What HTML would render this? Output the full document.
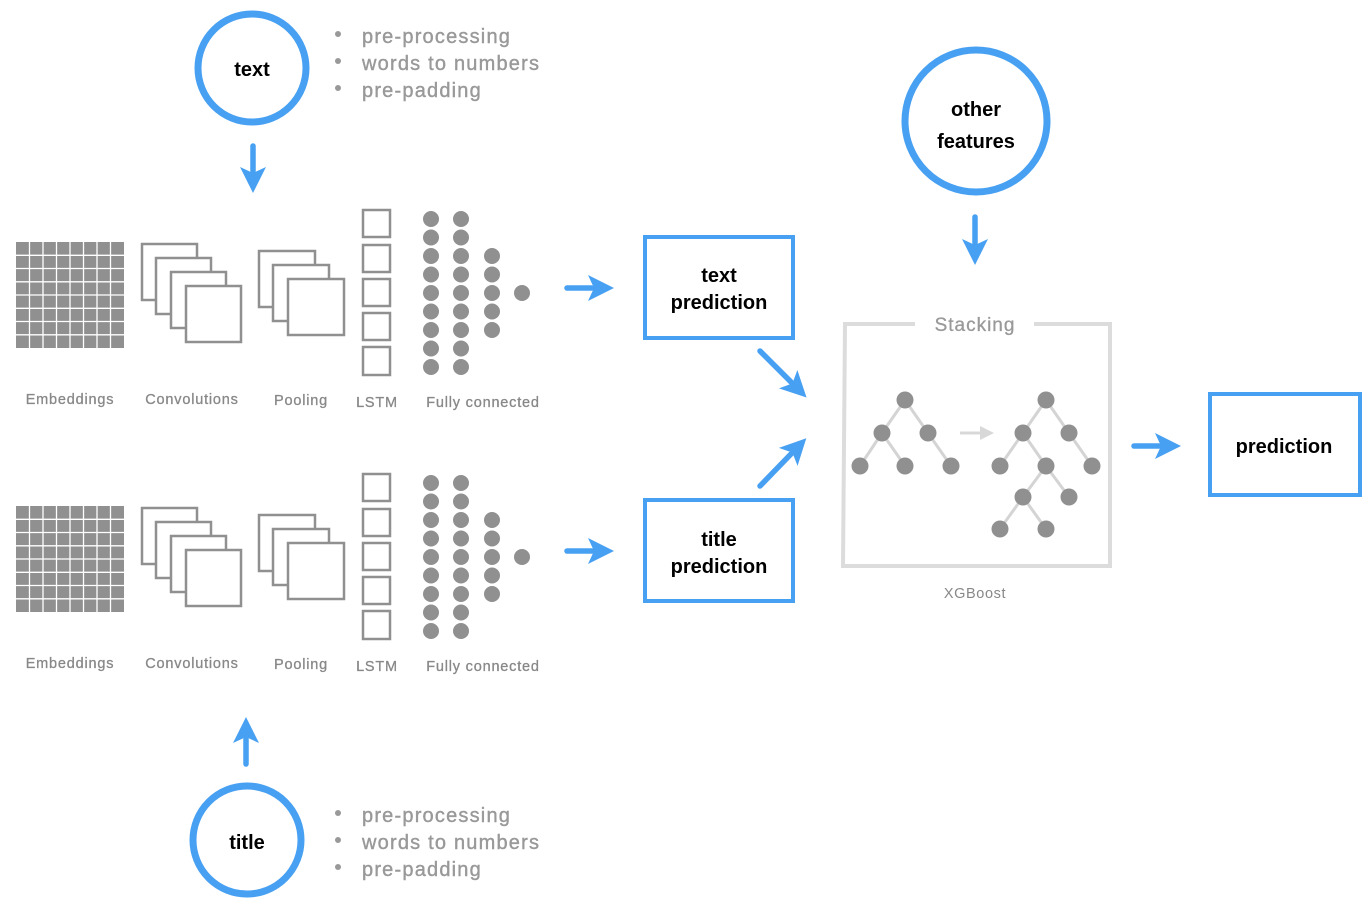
<!DOCTYPE html>
<html><head><meta charset="utf-8"><style>
html,body{margin:0;padding:0;background:#fff;}
svg{display:block;}
text{font-family:"Liberation Sans",sans-serif;}
</style></head><body>
<svg width="1372" height="904" viewBox="0 0 1372 904" xmlns="http://www.w3.org/2000/svg">
<defs>
<marker id="ah" markerUnits="userSpaceOnUse" markerWidth="26" markerHeight="28" refX="4" refY="14" orient="auto">
<path d="M0,1 L26,14 L0,27 L6,14 Z" fill="#47a0f2"/>
</marker>
<marker id="gh" markerUnits="userSpaceOnUse" markerWidth="14" markerHeight="16" refX="2" refY="8" orient="auto">
<path d="M0,1 L14,8 L0,15 Z" fill="#d8d8d8"/>
</marker>
<g id="net">
  <rect x="16" y="242" width="108" height="106" fill="#909090"/>
  <g stroke="#fff" stroke-width="1.3">
    <line x1="29.5" y1="242" x2="29.5" y2="348"/><line x1="43" y1="242" x2="43" y2="348"/><line x1="56.5" y1="242" x2="56.5" y2="348"/><line x1="70" y1="242" x2="70" y2="348"/><line x1="83.5" y1="242" x2="83.5" y2="348"/><line x1="97" y1="242" x2="97" y2="348"/><line x1="110.5" y1="242" x2="110.5" y2="348"/>
    <line x1="16" y1="255.3" x2="124" y2="255.3"/><line x1="16" y1="268.5" x2="124" y2="268.5"/><line x1="16" y1="281.8" x2="124" y2="281.8"/><line x1="16" y1="295" x2="124" y2="295"/><line x1="16" y1="308.3" x2="124" y2="308.3"/><line x1="16" y1="321.5" x2="124" y2="321.5"/><line x1="16" y1="334.8" x2="124" y2="334.8"/>
  </g>
  <g fill="#fff" stroke="#909090" stroke-width="2.5">
    <rect x="142" y="244" width="55" height="56"/>
    <rect x="156" y="258" width="55" height="56"/>
    <rect x="171" y="272" width="55" height="56"/>
    <rect x="186" y="286" width="55" height="56"/>
    <rect x="259" y="251" width="56" height="56"/>
    <rect x="273" y="265" width="56" height="56"/>
    <rect x="288" y="279" width="56" height="56"/>
    <rect x="363" y="210" width="27" height="27"/>
    <rect x="363" y="245" width="27" height="27"/>
    <rect x="363" y="279" width="27" height="27"/>
    <rect x="363" y="313" width="27" height="27"/>
    <rect x="363" y="347" width="27" height="28"/>
  </g>
  <g fill="#909090">
    <circle cx="431" cy="219" r="8"/><circle cx="431" cy="237.5" r="8"/><circle cx="431" cy="256" r="8"/><circle cx="431" cy="274.5" r="8"/><circle cx="431" cy="293" r="8"/><circle cx="431" cy="311.5" r="8"/><circle cx="431" cy="330" r="8"/><circle cx="431" cy="348.5" r="8"/><circle cx="431" cy="367" r="8"/>
    <circle cx="461" cy="219" r="8"/><circle cx="461" cy="237.5" r="8"/><circle cx="461" cy="256" r="8"/><circle cx="461" cy="274.5" r="8"/><circle cx="461" cy="293" r="8"/><circle cx="461" cy="311.5" r="8"/><circle cx="461" cy="330" r="8"/><circle cx="461" cy="348.5" r="8"/><circle cx="461" cy="367" r="8"/>
    <circle cx="492" cy="256" r="8"/><circle cx="492" cy="274.5" r="8"/><circle cx="492" cy="293" r="8"/><circle cx="492" cy="311.5" r="8"/><circle cx="492" cy="330" r="8"/>
    <circle cx="522" cy="293" r="8"/>
  </g>
  <g fill="#888" font-size="14.5" text-anchor="middle" letter-spacing="0.8" stroke="#888" stroke-width="0.3">
    <text x="70" y="404">Embeddings</text>
    <text x="192" y="404">Convolutions</text>
    <text x="301" y="405">Pooling</text>
    <text x="377" y="407">LSTM</text>
    <text x="483" y="407">Fully connected</text>
  </g>
</g>
</defs>

<use href="#net"/>
<use href="#net" transform="translate(0,264)"/>

<g fill="none" stroke="#47a0f2" stroke-width="7">
  <circle cx="252" cy="68" r="54"/>
  <circle cx="247" cy="840" r="54"/>
  <circle cx="976" cy="121" r="71"/>
</g>
<g fill="#000" font-size="20" font-weight="bold" text-anchor="middle">
  <text x="252" y="76">text</text>
  <text x="247" y="849">title</text>
  <text x="976" y="116">other</text>
  <text x="976" y="148">features</text>
  <text x="719" y="282">text</text>
  <text x="719" y="309">prediction</text>
  <text x="719" y="546">title</text>
  <text x="719" y="573">prediction</text>
  <text x="1284" y="453">prediction</text>
</g>

<g fill="#999" font-size="20" letter-spacing="1.2" stroke="#999" stroke-width="0.4">
  <text x="362" y="43">pre-processing</text>
  <text x="362" y="70">words to numbers</text>
  <text x="362" y="97">pre-padding</text>
  <text x="362" y="822">pre-processing</text>
  <text x="362" y="849">words to numbers</text>
  <text x="362" y="876">pre-padding</text>
</g>
<g fill="#999">
  <circle cx="338" cy="34" r="3"/><circle cx="338" cy="61" r="3"/><circle cx="338" cy="88" r="3"/>
  <circle cx="338" cy="813" r="3"/><circle cx="338" cy="840" r="3"/><circle cx="338" cy="867" r="3"/>
</g>

<g fill="none" stroke="#47a0f2" stroke-width="4">
  <rect x="645" y="237" width="148" height="101"/>
  <rect x="645" y="500" width="148" height="101"/>
  <rect x="1210" y="394" width="150" height="101"/>
</g>

<g stroke="#47a0f2" stroke-width="5.5" stroke-linecap="round" marker-end="url(#ah)">
  <line x1="253" y1="146" x2="253" y2="171"/>
  <line x1="246" y1="764" x2="246" y2="739"/>
  <line x1="567" y1="288" x2="592" y2="288"/>
  <line x1="567" y1="551" x2="592" y2="551"/>
  <line x1="975" y1="217" x2="975" y2="243"/>
  <line x1="1134" y1="446" x2="1159" y2="446"/>
  <line x1="760" y1="351" x2="791" y2="382"/>
  <line x1="760" y1="486" x2="791" y2="454"/>
</g>

<path d="M915,324 L845,324 L843,566 L1110,566 L1110,324 L1034,324" fill="none" stroke="#dcdcdc" stroke-width="4"/>
<text x="975" y="331" text-anchor="middle" font-size="19" fill="#999" letter-spacing="1" stroke="#999" stroke-width="0.3">Stacking</text>
<text x="975" y="598" text-anchor="middle" font-size="14.5" fill="#888" letter-spacing="0.6">XGBoost</text>

<g stroke="#d4d4d4" stroke-width="3">
  <line x1="905" y1="400" x2="882" y2="433"/><line x1="905" y1="400" x2="928" y2="433"/>
  <line x1="882" y1="433" x2="860" y2="466"/><line x1="882" y1="433" x2="905" y2="466"/><line x1="928" y1="433" x2="951" y2="466"/>
  <line x1="1046" y1="400" x2="1023" y2="433"/><line x1="1046" y1="400" x2="1069" y2="433"/>
  <line x1="1023" y1="433" x2="1000" y2="466"/><line x1="1023" y1="433" x2="1046" y2="466"/><line x1="1069" y1="433" x2="1092" y2="466"/>
  <line x1="1046" y1="466" x2="1023" y2="497"/><line x1="1046" y1="466" x2="1069" y2="497"/>
  <line x1="1023" y1="497" x2="1000" y2="529"/><line x1="1023" y1="497" x2="1046" y2="529"/>
</g>
<line x1="960" y1="433" x2="982" y2="433" stroke="#d8d8d8" stroke-width="3" marker-end="url(#gh)"/>
<g fill="#909090">
  <circle cx="905" cy="400" r="8.5"/><circle cx="882" cy="433" r="8.5"/><circle cx="928" cy="433" r="8.5"/>
  <circle cx="860" cy="466" r="8.5"/><circle cx="905" cy="466" r="8.5"/><circle cx="951" cy="466" r="8.5"/>
  <circle cx="1046" cy="400" r="8.5"/><circle cx="1023" cy="433" r="8.5"/><circle cx="1069" cy="433" r="8.5"/>
  <circle cx="1000" cy="466" r="8.5"/><circle cx="1046" cy="466" r="8.5"/><circle cx="1092" cy="466" r="8.5"/>
  <circle cx="1023" cy="497" r="8.5"/><circle cx="1069" cy="497" r="8.5"/>
  <circle cx="1000" cy="529" r="8.5"/><circle cx="1046" cy="529" r="8.5"/>
</g>
</svg>
</body></html>
